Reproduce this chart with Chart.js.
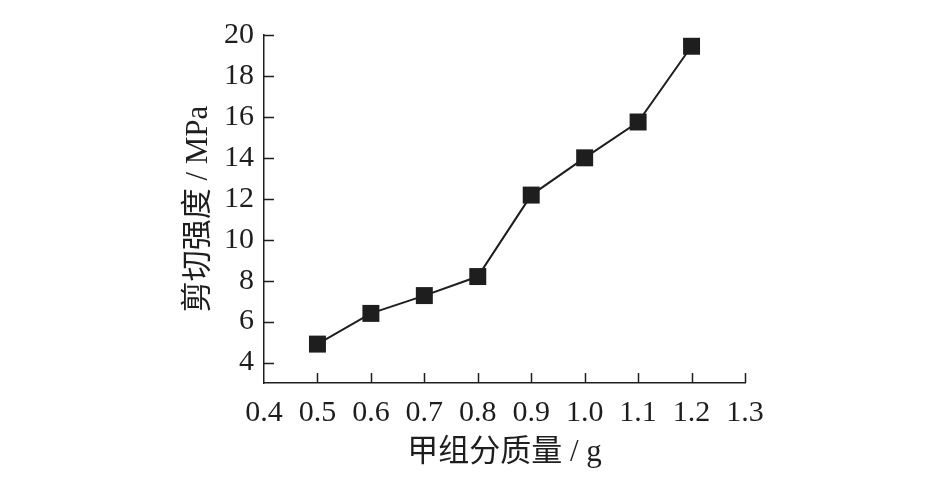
<!DOCTYPE html>
<html>
<head>
<meta charset="utf-8">
<script src="https://cdn.jsdelivr.net/npm/chart.js@4.4.0/dist/chart.umd.min.js"></script>
<style>
  html, body { margin: 0; padding: 0; background: #ffffff; }
  #wrap { width: 945px; height: 497px; }
</style>
</head>
<body>
<div id="wrap"><canvas id="shearChart"></canvas></div>
<script>
// component A mass (g) vs shear strength (MPa)
const massValues = [0.5, 0.6, 0.7, 0.8, 0.9, 1.0, 1.1, 1.2];
const shearStrength = [4.9, 6.4, 7.27, 8.2, 12.18, 14.0, 15.75, 19.45];
const xTickValues = [0.4, 0.5, 0.6, 0.7, 0.8, 0.9, 1.0, 1.1, 1.2, 1.3];
const yTickValues = [4, 6, 8, 10, 12, 14, 16, 18, 20];

const xTitle = "甲组分质量 / g";
const yTitle = "剪切强度 / MPa";

const fontFamily = '"Liberation Serif", "Noto Sans CJK SC", serif';
const ink = "#1e1e1e";

// inward tick marks like the original figure
const inwardTicks = {
    id: "inwardTicks",
    afterDraw(chart) {
        const { ctx, scales } = chart;
        const xs = scales.x, ys = scales.y;
        ctx.save();
        ctx.strokeStyle = ink;
        ctx.lineWidth = 1.5;
        ctx.beginPath();
        xTickValues.forEach(v => {
            if (v === xs.min) return;
            const px = Math.round(xs.getPixelForValue(v)) + 0.5;
            ctx.moveTo(px, xs.top);
            ctx.lineTo(px, xs.top - 10);
        });
        yTickValues.forEach(v => {
            const py = Math.round(ys.getPixelForValue(v)) + 0.5;
            ctx.moveTo(ys.right, py);
            ctx.lineTo(ys.right + 10, py);
        });
        ctx.stroke();
        ctx.restore();
    }
};

new Chart(document.getElementById("shearChart"), {
    type: "line",
    data: {
        datasets: [{
            data: massValues.map((m, i) => ({ x: m, y: shearStrength[i] })),
            borderColor: ink,
            borderWidth: 2,
            pointStyle: "rect",
            pointRadius: 12,
            pointHoverRadius: 12,
            pointBackgroundColor: ink,
            pointBorderColor: ink,
            pointBorderWidth: 0,
            tension: 0
        }]
    },
    options: {
        responsive: true,
        maintainAspectRatio: false,
        animation: false,
        events: [],
        layout: { padding: { left: 180, right: 200, top: 35, bottom: 14 } },
        plugins: { legend: { display: false }, tooltip: { enabled: false } },
        scales: {
            x: {
                type: "linear",
                min: 0.4,
                max: 1.3,
                afterBuildTicks: s => { s.ticks = xTickValues.map(v => ({ value: v })); },
                afterFit: s => { s.height = 100; },
                grid: { display: false, drawTicks: false },
                border: { display: true, color: ink, width: 1.5 },
                ticks: {
                    color: ink,
                    padding: 12,
                    maxRotation: 0,
                    autoSkip: false,
                    font: { family: fontFamily, size: 30 },
                    callback: v => Number(v).toFixed(1)
                },
                title: {
                    display: true,
                    text: xTitle,
                    color: ink,
                    padding: { top: 0, bottom: 12 },
                    font: { family: fontFamily, size: 31 }
                }
            },
            y: {
                min: 3,
                max: 20,
                afterBuildTicks: s => { s.ticks = yTickValues.map(v => ({ value: v })); },
                afterFit: s => { s.width = 84; },
                grid: { display: false, drawTicks: false },
                border: { display: true, color: ink, width: 1.5 },
                ticks: {
                    color: ink,
                    padding: 10,
                    autoSkip: false,
                    font: { family: fontFamily, size: 30 }
                },
                title: {
                    display: true,
                    text: yTitle,
                    color: ink,
                    padding: { top: 0, bottom: 0 },
                    font: { family: fontFamily, size: 31 }
                }
            }
        }
    },
    plugins: [inwardTicks]
});
</script>
</body>
</html>
